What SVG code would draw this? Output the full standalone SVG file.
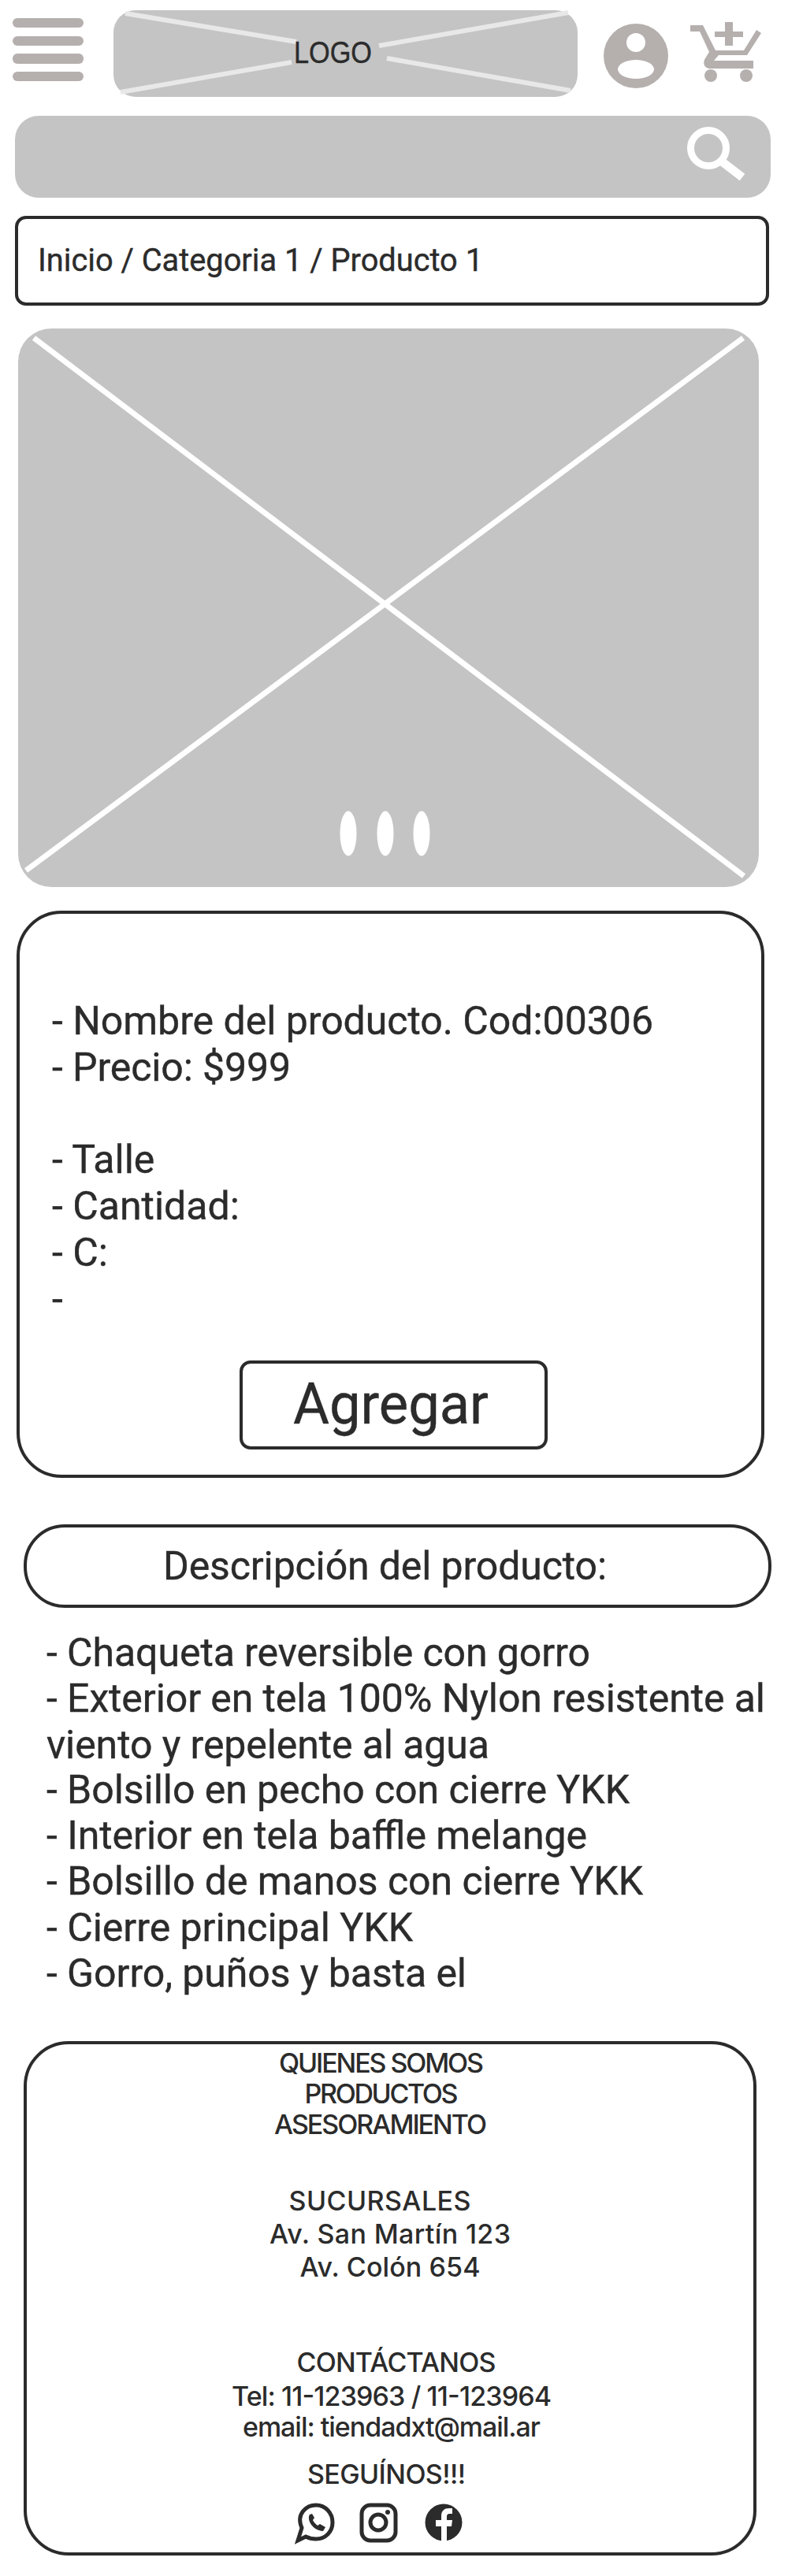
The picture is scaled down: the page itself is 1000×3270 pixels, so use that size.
<svg xmlns="http://www.w3.org/2000/svg" width="1000" height="3270" viewBox="0 0 1000 3270">
<style>
.ph{fill:#c4c4c4}
.ico{fill:#b5b0ae}
.box{fill:#fff;stroke:#2b2b2b;stroke-width:4}
.x{stroke:#e8e8e8;stroke-width:6;fill:none}
.t{fill:#2b2b2b;stroke:#2b2b2b;stroke-width:.4;font-family:Roboto,"Liberation Sans",sans-serif;font-weight:400}
.f{fill:#2b2b2b;font-family:Inter,"Liberation Sans",sans-serif;font-size:34px;font-weight:500;text-anchor:middle}
.l{font-size:50px}
.d{font-size:50px}
.logo{font-family:"Liberation Sans",sans-serif}
</style>
<rect width="1000" height="3270" fill="#fff"/>
<g id="menu" class="ico"><rect x="16" y="23" width="90" height="12" rx="6"/><rect x="16" y="46" width="90" height="12" rx="6"/><rect x="16" y="68" width="90" height="13" rx="6"/><rect x="16" y="91" width="90" height="12" rx="6"/></g>
<g id="logo"><rect class="ph" x="144" y="13" width="589" height="110" rx="28"/><path class="x" d="M159 17L376 53M721 16L481 58M153 117L370 79M724 115L491 74"/><text class="t logo" x="373" y="80" font-size="38" textLength="99" lengthAdjust="spacingAndGlyphs">LOGO</text></g>
<g id="user"><circle class="ico" cx="807" cy="71" r="41"/><circle cx="807" cy="54" r="12" fill="#fff"/><ellipse cx="807" cy="88" rx="23" ry="12" fill="#fff"/></g>
<g id="cart"><path class="ico" d="M876 32H892L908 64H944L960 38L966 42L948 70H912L906 77H956V87H901C894 87 891 80 895 74L900 66L888 40H876Z"/><circle class="ico" cx="902" cy="96" r="8"/><circle class="ico" cx="947" cy="96" r="8"/><path class="ico" d="M920 28V40H907V47H920V58H930V47H943V40H930V28Z"/></g>
<g id="search"><rect class="ph" x="19" y="147" width="959" height="104" rx="30"/><circle cx="899" cy="188" r="22.500" fill="none" stroke="#fff" stroke-width="9"/><path d="M916 205L942 225" stroke="#fff" stroke-width="11" fill="none"/></g>
<g id="breadcrumb"><rect class="box" x="21" y="276" width="953" height="110" rx="12"/><text class="t" x="48" y="344" font-size="40" textLength="565" lengthAdjust="spacingAndGlyphs">Inicio / Categoria 1 / Producto 1</text></g>
<g id="gallery"><rect class="ph" x="23" y="417" width="940" height="709" rx="42"/><path d="M43 429L944 1112M943 429L33 1105" stroke="#fff" stroke-width="7" fill="none"/><ellipse cx="442" cy="1058" rx="10.500" ry="28.500" fill="#fff"/><ellipse cx="489" cy="1058" rx="10.500" ry="28.500" fill="#fff"/><ellipse cx="535" cy="1058" rx="10.500" ry="28.500" fill="#fff"/></g>
<g id="product"><rect class="box" x="23" y="1158" width="945" height="716" rx="55"/>
<text class="t l" x="66" y="1313" textLength="763">- Nombre del producto. Cod:00306</text>
<text class="t l" x="66" y="1372" textLength="303">- Precio: $999</text>
<text class="t l" x="66" y="1489">- Talle</text>
<text class="t l" x="66" y="1548">- Cantidad:</text>
<text class="t l" x="66" y="1607">- C:</text>
<text class="t l" x="66" y="1666">-</text>
<g id="agregar"><rect class="box" x="306" y="1729" width="387" height="109" rx="12"/><text class="t" x="372" y="1807" font-size="72" textLength="248" lengthAdjust="spacingAndGlyphs">Agregar</text></g></g>
<g id="desc-title"><rect class="box" x="32" y="1937" width="945" height="102" rx="50"/><text class="t" x="207" y="2005" font-size="50" textLength="563">Descripción del producto:</text></g>
<g id="desc">
<text class="t d" x="59" y="2115" textLength="690">- Chaqueta reversible con gorro</text>
<text class="t d" x="59" y="2173" textLength="912">- Exterior en tela 100% Nylon resistente al</text>
<text class="t d" x="59" y="2232" textLength="562">viento y repelente al agua</text>
<text class="t d" x="59" y="2289" textLength="740">- Bolsillo en pecho con cierre YKK</text>
<text class="t d" x="59" y="2347" textLength="686">- Interior en tela baffle melange</text>
<text class="t d" x="59" y="2405" textLength="757">- Bolsillo de manos con cierre YKK</text>
<text class="t d" x="59" y="2464" textLength="465">- Cierre principal YKK</text>
<text class="t d" x="59" y="2522" textLength="533">- Gorro, puños y basta el</text>
</g>
<g id="footer"><rect class="box" x="32" y="2593" width="926" height="649" rx="55"/>
<text class="f" x="484" y="2631" textLength="260">QUIENES SOMOS</text>
<text class="f" x="484" y="2670" textLength="195">PRODUCTOS</text>
<text class="f" x="483" y="2709" textLength="270">ASESORAMIENTO</text>
<text class="f" x="482" y="2806" textLength="231">SUCURSALES</text>
<text class="f" x="495" y="2848" textLength="306">Av. San Martín 123</text>
<text class="f" x="495" y="2890" textLength="229">Av. Colón 654</text>
<text class="f" x="503" y="3011" textLength="253">CONTÁCTANOS</text>
<text class="f" x="497" y="3054" textLength="406">Tel: 11-123963 / 11-123964</text>
<text class="f" x="497" y="3093" textLength="378">email: tiendadxt@mail.ar</text>
<text class="f" x="490.500" y="3153" textLength="201">SEGUÍNOS!!!</text>
<g id="whatsapp"><path d="M378 3225L383 3209C375 3190 390 3180 401 3180C413 3180 422 3190 422 3202C422 3214 413 3223 401 3223C396 3223 392 3222 388 3220Z" fill="none" stroke="#2b2b2b" stroke-width="5"/><path d="M393 3192C389 3198 396 3212 410 3213L413 3208L406 3204L403 3206C400 3204 398 3201 397 3199L399 3196L396 3191Z" fill="#2b2b2b"/></g>
<g id="instagram"><rect x="459" y="3180" width="43" height="45" rx="11" fill="none" stroke="#2b2b2b" stroke-width="5"/><circle cx="480" cy="3202" r="10" fill="none" stroke="#2b2b2b" stroke-width="5"/><circle cx="492" cy="3189" r="3" fill="#2b2b2b"/></g>
<g id="facebook"><circle cx="563" cy="3202" r="23.500" fill="#2b2b2b"/><path d="M560 3226V3207H553V3199H560V3194C560 3187 564 3184 570 3184H574V3191H571C568 3191 567 3192 567 3195V3199H574L573 3207H567V3226Z" fill="#fff"/></g>
</g>
</svg>
